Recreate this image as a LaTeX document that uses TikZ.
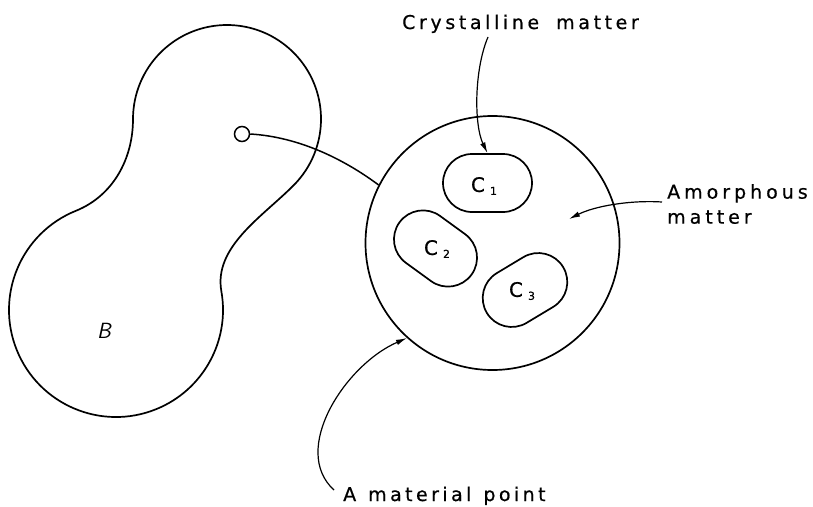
\documentclass[tikz,border=0pt]{standalone}
\usepackage{fontspec}
\setmainfont{DejaVu Sans}
\newfontfamily\lblfont[FakeBold=0.6]{DejaVu Sans}
\usetikzlibrary{arrows.meta}
\newcommand\lsp[1]{\addfontfeature{LetterSpace=#1}}
\newcommand\csub[1]{\hspace{5pt}\raisebox{-3pt}{\fontsize{11}{11}\selectfont #1}}
\tikzset{
  outline/.style={line width=1.7pt},
  crystal/.style={draw, line width=1.7pt, rounded corners=29pt, minimum width=89pt, minimum height=58pt, inner sep=0pt},
  lbl/.style={font=\lblfont\fontsize{19}{25}\selectfont, inner sep=0pt},
  clbl/.style={font=\lblfont\fontsize{20}{22}\selectfont, inner sep=0pt},
  pointer/.style={line width=1.2pt, -{Latex[length=11pt,width=5.5pt]}},
}
\begin{document}
\begin{tikzpicture}[x=1pt,y=-1pt]
\useasboundingbox (0,0) rectangle (813,506);
% body B
\draw[outline] (293.47,185.47) arc[start angle=45, end angle=-180, radius=94]
  .. controls (133,159) and (113,195.8) .. (75.92,210.79)
  arc[start angle=248, end angle=-10, radius=107]
  .. controls (213.5,247.1) and (261.7,217.3) .. cycle;
\node[font=\sffamily\itshape\fontsize{22}{24}\selectfont, inner sep=0pt] (B) at (104,331) {B};
% material point and magnified neighbourhood
\node[draw, circle, line width=1.5pt, minimum size=15pt, inner sep=0pt] (dot) at (242,134) {};
\node[draw, circle, outline, minimum size=254pt, inner sep=0pt] (big) at (492.5,243) {};
\draw[line width=1.5pt] (dot.east) .. controls (300,137) and (345,160) .. (big.153);
% crystals
\node[crystal] (C1) at (487.5,183) {};
\node[crystal, rotate=-36] (C2) at (435.5,248.5) {};
\node[crystal, rotate=31] (C3) at (525,290) {};
\node[clbl] (t1) at (484,186) {C\csub{1}};
\node[clbl] (t2) at (437,249) {C\csub{2}};
\node[clbl] (t3) at (522,291) {C\csub{3}};
% labels
\node[lbl, anchor=base west] (cryst) at (402,29) {\lsp{19}Crystalline\hspace{17pt}matter};
\node[lbl, anchor=north west, align=left] (amor) at (667,184) {\lsp{21}Amorphous\\\lsp{21}matter};
\node[lbl, anchor=base west] (mp) at (343,501) {\lsp{18}A\hspace{12pt}material\hspace{12pt}point};
\coordinate (amtail) at (662,202);
\coordinate (amtip) at (569,219);
\coordinate (crtail) at (488,37);
\coordinate (mptail) at (334,490);
% pointers
\draw[pointer] (crtail) .. controls (474,70) and (474,125) .. (C1.north);
\draw[pointer] (amtail) .. controls (630,200) and (595,206) .. (amtip);
\draw[pointer] (mptail) .. controls (290,450) and (345,365) .. (big.228);
\end{tikzpicture}
\end{document}
